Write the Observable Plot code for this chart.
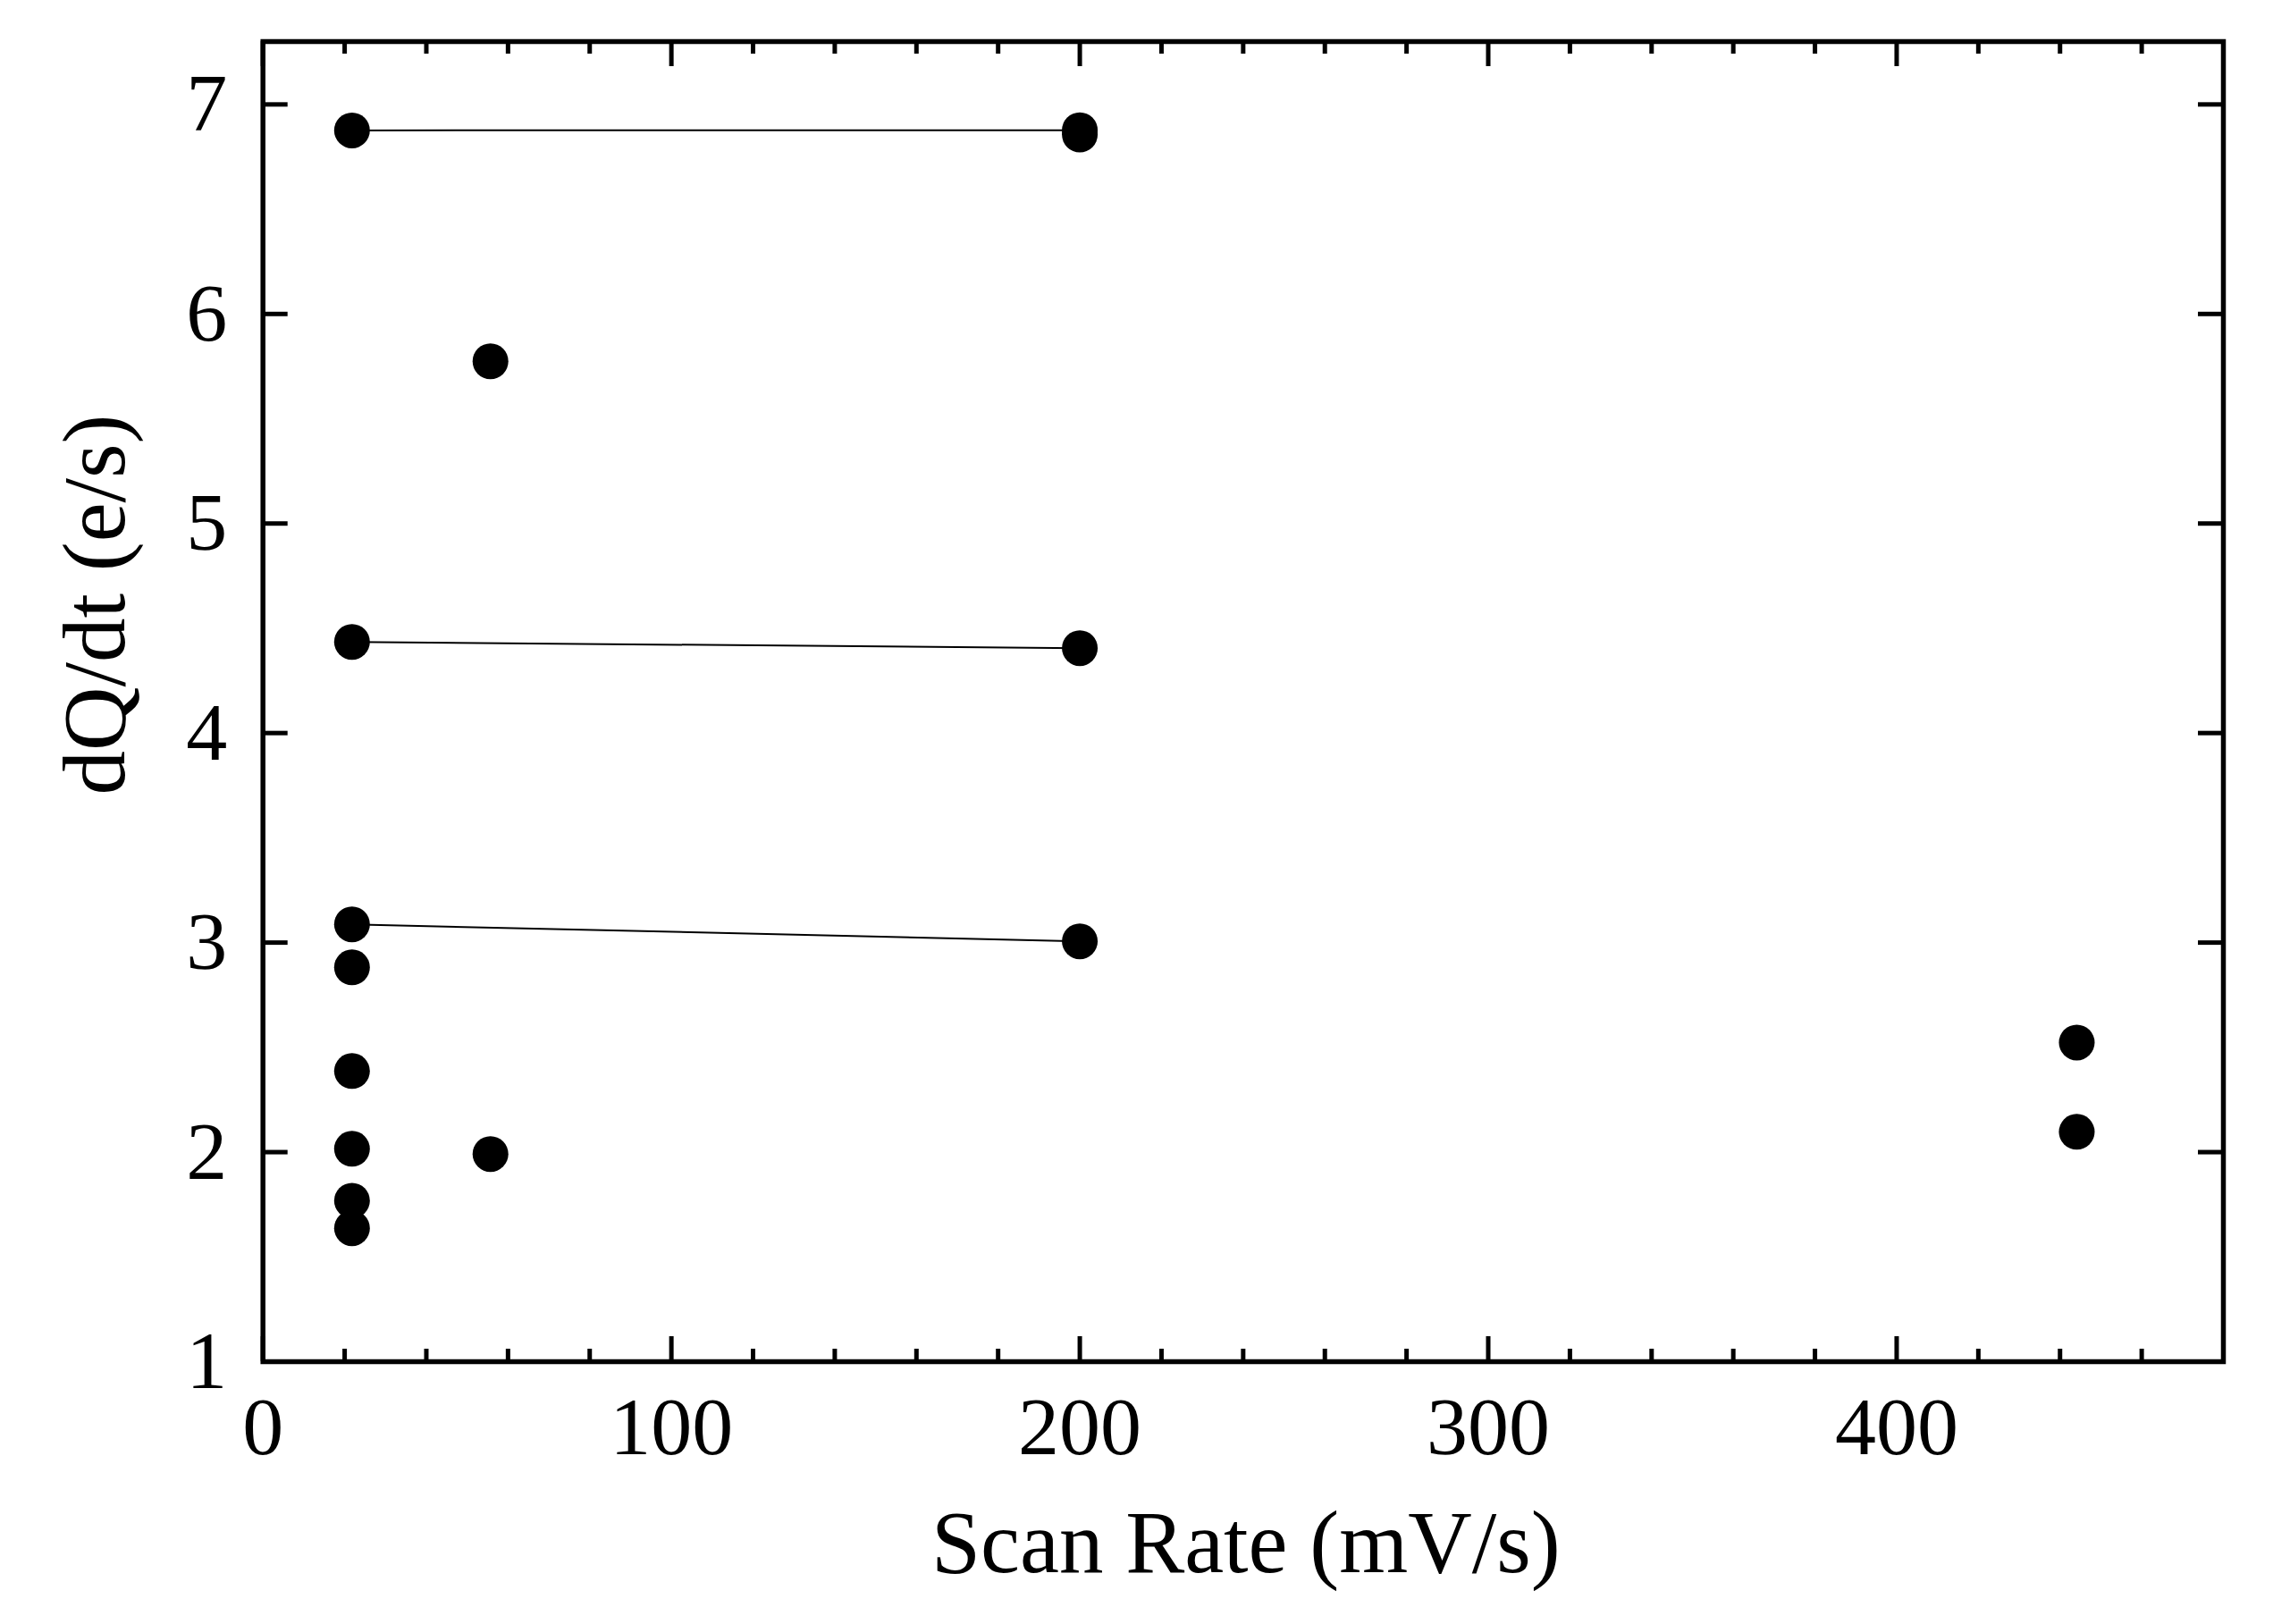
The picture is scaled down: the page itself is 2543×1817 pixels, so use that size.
<!DOCTYPE html>
<html><head><meta charset="utf-8">
<script src="https://cdn.jsdelivr.net/npm/d3@7"></script>
<script src="https://cdn.jsdelivr.net/npm/@observablehq/plot@0.6"></script>
<style>html,body{margin:0;padding:0;background:#fff;overflow:hidden}</style>
</head><body><div id="chart"></div>
<script>
// Scan rate (mV/s) and dQ/dt (e/s) for every marker
const pointRates  = [21.8, 21.8, 21.8, 21.8, 21.8, 21.8, 21.8, 21.8, 55.7, 55.7, 200, 200, 200, 200, 444.1, 444.1];
const pointValues = [6.876, 4.435, 3.087, 2.882, 2.387, 2.016, 1.768, 1.637, 5.774, 1.991, 6.877, 6.856, 4.405, 3.006, 2.523, 2.097];
// Connected pairs
const pairRates = [21.8, 200];
const pairA = [6.876, 6.877];
const pairB = [4.435, 4.405];
const pairC = [3.087, 3.006];
// Ticks
const xTickLabels = [0, 100, 200, 300, 400];
const xMinorTicks = [20, 40, 60, 80, 120, 140, 160, 180, 220, 240, 260, 280, 320, 340, 360, 380, 420, 440, 460];
const yTickLabels = [1, 2, 3, 4, 5, 6, 7];
const xTitle = "Scan Rate (mV/s)";
const yTitle = "dQ/dt (e/s)";

const W = 2543, H = 1817, mL = 293.7, mR = 56, mT = 46, mB = 294;
const innerW = W - mL - mR, innerH = H - mT - mB;
const majorLen = 28, minorLen = 14;
const font = "'Liberation Serif', 'Times New Roman', serif";

const points = pointRates.map((x, i) => ({x, y: pointValues[i]}));
const pairs = [pairA, pairB, pairC].flatMap((ys, k) => pairRates.map((x, i) => ({x, y: ys[i], k})));

const tickStyle = {stroke: "#000", strokeWidth: 5};

const chart = Plot.plot({
  width: W, height: H,
  marginLeft: mL, marginRight: mR, marginTop: mT, marginBottom: mB,
  style: {fontFamily: font, background: "#fff", color: "#000"},
  x: {domain: [0, 480]},
  y: {domain: [1, 7.3]},
  marks: [
    Plot.line(pairs, {x: "x", y: "y", z: "k", stroke: "#000", strokeWidth: 2}),
    Plot.dot(points, {x: "x", y: "y", r: 20, fill: "#000", stroke: "none"}),
    Plot.tickX(xTickLabels, {x: d => d, insetTop: innerH - majorLen, ...tickStyle}),
    Plot.tickX(xTickLabels, {x: d => d, insetBottom: innerH - majorLen, ...tickStyle}),
    Plot.tickX(xMinorTicks, {x: d => d, insetTop: innerH - minorLen, ...tickStyle}),
    Plot.tickX(xMinorTicks, {x: d => d, insetBottom: innerH - minorLen, ...tickStyle}),
    Plot.tickY(yTickLabels, {y: d => d, insetRight: innerW - majorLen, ...tickStyle}),
    Plot.tickY(yTickLabels, {y: d => d, insetLeft: innerW - majorLen, ...tickStyle}),
    Plot.frame({stroke: "#000", strokeWidth: 5.5}),
    Plot.axisX(xTickLabels, {tickSize: 0, tickPadding: 38, fontSize: 92, fontFamily: font, tickFormat: d => String(d), label: null}),
    Plot.axisY(yTickLabels, {tickSize: 0, tickPadding: 40, fontSize: 92, fontFamily: font, tickFormat: d => String(d), label: null}),
    Plot.text([xTitle], {text: d => d, frameAnchor: "bottom", textAnchor: "middle", dx: 3, dy: 235, lineAnchor: "bottom", fontSize: 99, fontFamily: font, fill: "#000"}),
    Plot.text([yTitle], {text: d => d, frameAnchor: "left", textAnchor: "middle", dx: 138 - mL, dy: 676 - (mT + innerH / 2), rotate: -90, lineAnchor: "bottom", fontSize: 99, fontFamily: font, fill: "#000"})
  ]
});
document.getElementById("chart").appendChild(chart);
</script>
</body></html>
